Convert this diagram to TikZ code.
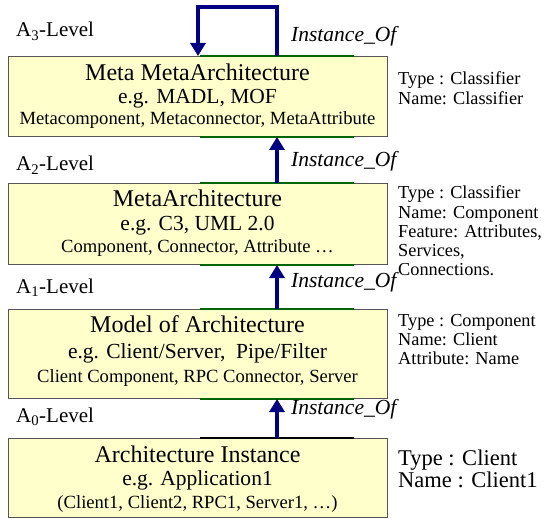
\documentclass[tikz,border=0pt]{standalone}
\usepackage{fontspec}
\setmainfont{Liberation Serif}
\usetikzlibrary{arrows.meta,calc}
\definecolor{boxfill}{HTML}{FFFFCC}
\definecolor{boxline}{HTML}{555555}
\definecolor{arrowblue}{HTML}{000080}
\definecolor{edgegreen}{HTML}{006400}
\begin{document}
\begin{tikzpicture}[x=1bp,y=-1bp,
  levelbox/.style={draw=boxline, fill=boxfill, line width=1bp, minimum width=379bp, inner sep=0pt, anchor=north west},
  titletext/.style={anchor=base, inner sep=0pt, font=\fontsize{24bp}{26bp}\selectfont},
  egtext/.style={anchor=base, inner sep=0pt, font=\fontsize{21.5bp}{23bp}\selectfont},
  smalltext/.style={anchor=base, inner sep=0pt, font=\fontsize{18.6bp}{20bp}\selectfont},
  notetext/.style={anchor=base west, inner sep=0pt, font=\fontsize{18.3bp}{20bp}\selectfont},
  bignote/.style={anchor=base west, inner sep=0pt, font=\fontsize{22.5bp}{24bp}\selectfont},
  leveltext/.style={anchor=base west, inner sep=0pt, font=\fontsize{21bp}{23bp}\selectfont},
  instlabel/.style={anchor=base west, inner sep=0pt, font=\fontsize{21.5bp}{23bp}\selectfont\itshape},
  flow/.style={draw=arrowblue, line width=3.5bp, -{Triangle[width=15bp,length=13bp]}},
  greenedge/.style={draw=edgegreen, line width=1.6bp},
  blackedge/.style={draw=black, line width=1.6bp}
]
\useasboundingbox (0,0) rectangle (544,519);

% boxes
\node[levelbox, minimum height=80bp] (b1) at (8,56) {};
\node[levelbox, minimum height=81bp] (b2) at (8,183) {};
\node[levelbox, minimum height=89bp] (b3) at (8,309) {};
\node[levelbox, minimum height=79bp] (b4) at (8,438) {};

% highlighted edge segments
\foreach \b in {b1,b2,b3}{
  \draw[greenedge] ($(\b.north west)+(192,0)$) -- ($(\b.north west)+(346,0)$);
  \draw[greenedge] ($(\b.south west)+(192,0)$) -- ($(\b.south west)+(346,0)$);
}
\draw[blackedge] ($(b4.north west)+(192,0)$) -- ($(b4.north west)+(346,0)$);

% box texts
\node[titletext] (t1a) at (197.5,81) {Meta MetaArchitecture};
\node[egtext] (t1b) at (197.5,104) {e.g. MADL, MOF};
\node[smalltext] (t1c) at (197.5,125) {Metacomponent, Metaconnector, MetaAttribute};

\node[titletext] (t2a) at (197.5,207) {MetaArchitecture};
\node[egtext] (t2b) at (197.5,230) {e.g. C3, UML 2.0};
\node[smalltext] (t2c) at (197.5,252) {Component, Connector, Attribute \dots};

\node[titletext] (t3a) at (197.5,332) {Model of Architecture};
\node[egtext] (t3b) at (197.5,358) {e.g. Client/Server,\ \ Pipe/Filter};
\node[smalltext] (t3c) at (197.5,382) {Client Component, RPC Connector, Server};

\node[titletext] (t4a) at (197.5,462) {Architecture Instance};
\node[egtext] (t4b) at (197.5,485) {e.g. Application1};
\node[smalltext] (t4c) at (197.5,508) {(Client1, Client2, RPC1, Server1, \dots)};

% level labels
\node[leveltext] (l3) at (16,37) {A\textsubscript{3}-Level};
\node[leveltext] (l2) at (16,171) {A\textsubscript{2}-Level};
\node[leveltext] (l1) at (16,293) {A\textsubscript{1}-Level};
\node[leveltext] (l0) at (16,422) {A\textsubscript{0}-Level};

% arrows
\coordinate (ax) at (277,0);
\coordinate (loopcorner) at (198,7);
\draw[flow] (b1.north -| ax) |- (loopcorner) -- (b1.north -| loopcorner);
\draw[flow] (b2.north -| ax) -- (b1.south -| ax);
\draw[flow] (b3.north -| ax) -- (b2.south -| ax);
\draw[flow] (b4.north -| ax) -- (b3.south -| ax);

% instance labels
\node[instlabel] (i3) at (291,42) {Instance\_Of};
\node[instlabel] (i2) at (291,167) {Instance\_Of};
\node[instlabel] (i1) at (291,287) {Instance\_Of};
\node[instlabel] (i0) at (291,414) {Instance\_Of};

% annotations
\node[notetext] (n1a) at (398,85) {Type : Classifier};
\node[notetext] (n1b) at (398,105) {Name: Classifier};

\node[notetext] (n2a) at (398,199) {Type : Classifier};
\node[notetext] (n2b) at (398,218) {Name: Component};
\node[notetext] (n2c) at (398,237) {Feature: Attributes,};
\node[notetext] (n2d) at (398,256) {Services,};
\node[notetext] (n2e) at (398,275) {Connections.};

\node[notetext] (n3a) at (398,326) {Type : Component};
\node[notetext] (n3b) at (398,345) {Name: Client};
\node[notetext] (n3c) at (398,364) {Attribute: Name};

\node[bignote] (n4a) at (398,465) {Type : Client};
\node[bignote] (n4b) at (398,487) {Name : Client1};
\end{tikzpicture}
\end{document}
